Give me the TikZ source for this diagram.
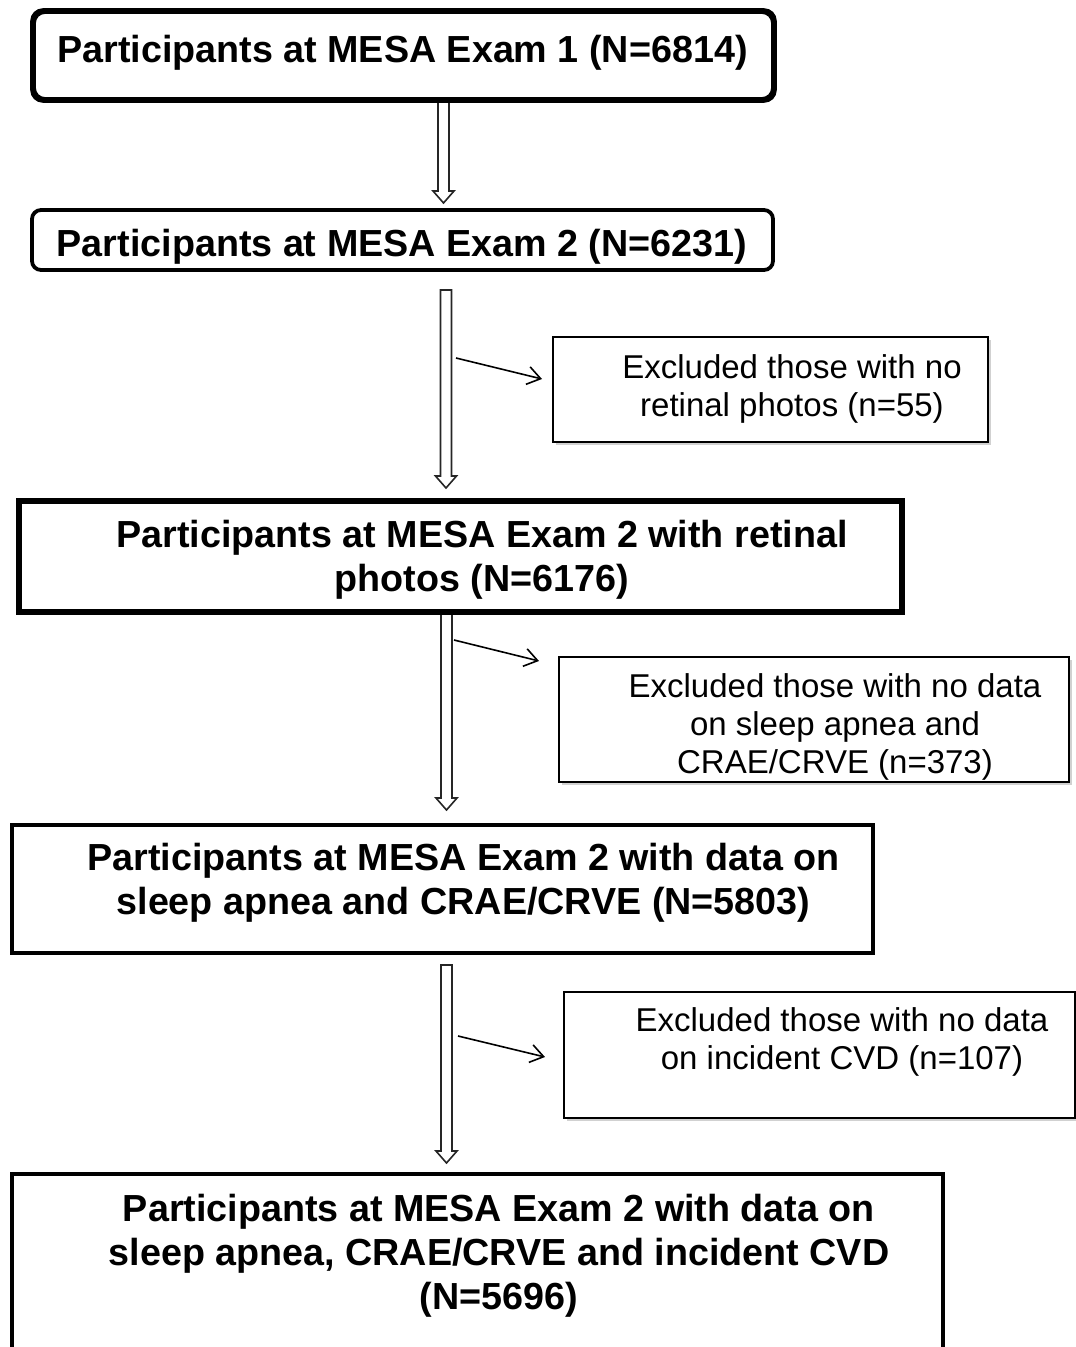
\documentclass[tikz,border=0pt]{standalone}
\usepackage{fontspec}
\setmainfont{Liberation Sans}
\usetikzlibrary{arrows.meta,calc,shadows}
\tikzset{
  mainbox/.style={draw=black, line width=3.8pt, inner sep=0pt},
  exbox/.style={draw=black, line width=1.4pt, fill=white, inner sep=0pt,
    drop shadow={shadow xshift=2.5pt, shadow yshift=-2.5pt, fill=black!18, opacity=1}},
  maintext/.style={inner sep=0pt, align=center, font=\fontsize{37.7}{44}\selectfont\bfseries},
  extext/.style={inner sep=0pt, align=center, font=\fontsize{33}{38}\selectfont},
  hollow/.style={draw=black!85, line width=1.6pt, fill=white, line join=miter},
  thinarrow/.style={draw=black, line width=1.6pt, -{Straight Barb[length=13pt,width=18pt,line width=1.6pt]}},
}
\newcommand\hollowarrow[2]{%
  \path[hollow] ($(#1)+(-5.5,0)$) -- ($(#2)+(-5.5,-12)$) -- ($(#2)+(-10.5,-12)$) -- (#2)
    -- ($(#2)+(10.5,-12)$) -- ($(#2)+(5.5,-12)$) -- ($(#1)+(5.5,0)$) -- cycle;}
\begin{document}
\begin{tikzpicture}[x=1pt,y=-1pt]
\path[use as bounding box, clip] (0,0) rectangle (1076,1347);
\fill[white] (0,0) rectangle (1076,1347);

% main boxes
\node[mainbox, rounded corners=11pt, minimum width=739pt, minimum height=87pt] (b1) at (403.5,55.5) {};
\node[mainbox, rounded corners=9pt, minimum width=741pt, minimum height=60pt] (b2) at (402.5,240) {};
\node[mainbox, minimum width=881pt, minimum height=109pt] (b3) at (460.5,556.5) {};
\node[mainbox, minimum width=861pt, minimum height=128pt] (b4) at (442.5,889) {};
\node[mainbox, minimum width=931pt, minimum height=226pt] (b5) at (477.5,1287) {};

\node[maintext] (t1) at (402.5,53) {Participants at MESA Exam 1 (N=6814)};
\node[maintext] (t2) at (402,247) {Participants at MESA Exam 2 (N=6231)};
\node[maintext] (t3) at (482,560) {Participants at MESA Exam 2 with retinal\\photos (N=6176)};
\node[maintext] (t4) at (463.5,883) {Participants at MESA Exam 2 with data on\\sleep apnea and CRAE/CRVE (N=5803)};
\node[maintext] (t5) at (499,1256) {Participants at MESA Exam 2 with data on\\sleep apnea, CRAE/CRVE and incident CVD\\(N=5696)};

% exclusion boxes
\node[exbox, minimum width=435pt, minimum height=105pt] (e1) at (770.5,389.5) {};
\node[exbox, minimum width=510pt, minimum height=125pt] (e2) at (814,719.5) {};
\node[exbox, minimum width=511pt, minimum height=126pt] (e3) at (819.5,1055) {};

\node[extext] (x1) at (792,389) {Excluded those with no\\retinal photos (n=55)};
\node[extext] (x2) at (835,727) {Excluded those with no data\\on sleep apnea and\\CRAE/CRVE (n=373)};
\node[extext] (x3) at (842,1042) {Excluded those with no data\\on incident CVD (n=107)};

% hollow arrows
\coordinate (h1s) at (443.5,101);  \coordinate (h1e) at (443.5,203);
\coordinate (h2s) at (446,290);    \coordinate (h2e) at (446,488);
\coordinate (h3s) at (446.5,613);  \coordinate (h3e) at (446.5,810);
\coordinate (h4s) at (446.5,965);  \coordinate (h4e) at (446.5,1163);
\hollowarrow{h1s}{h1e}
\hollowarrow{h2s}{h2e}
\hollowarrow{h3s}{h3e}
\hollowarrow{h4s}{h4e}
\draw[mainbox, rounded corners=11pt] (b1.north west) rectangle (b1.south east);
\draw[mainbox] (b3.north west) rectangle (b3.south east);

% thin arrows
\coordinate (a1s) at (456,358);  \coordinate (a1e) at (542,379);
\coordinate (a2s) at (454,640);  \coordinate (a2e) at (539,661);
\coordinate (a3s) at (458,1036); \coordinate (a3e) at (545,1057);
\draw[thinarrow] (a1s) -- (a1e);
\draw[thinarrow] (a2s) -- (a2e);
\draw[thinarrow] (a3s) -- (a3e);
\end{tikzpicture}
\end{document}
